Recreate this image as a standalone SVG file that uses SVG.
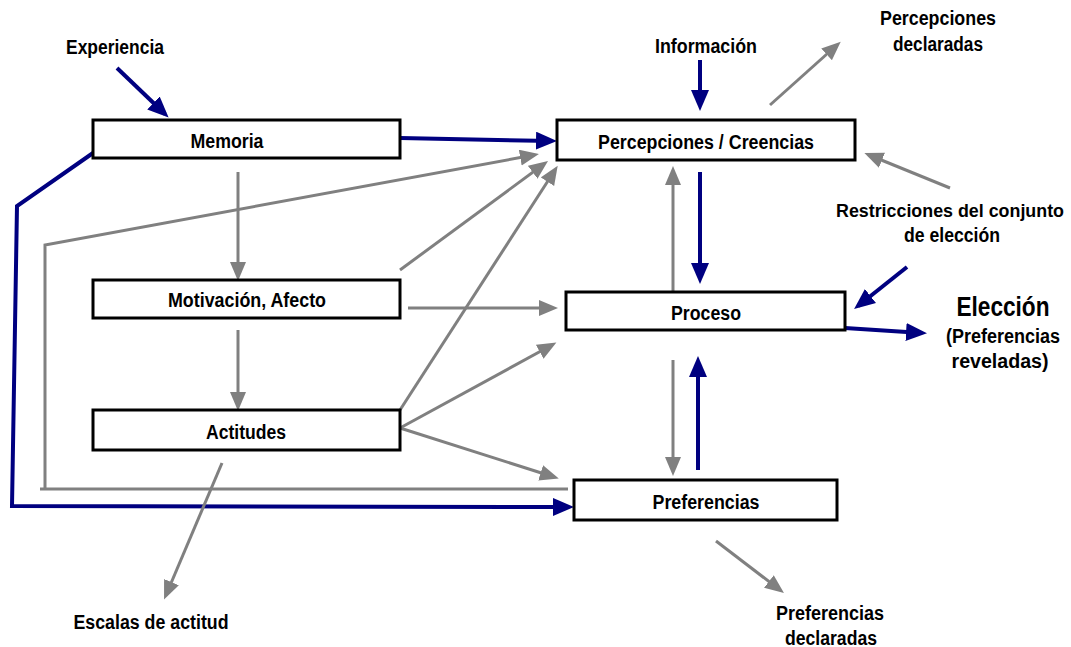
<svg xmlns="http://www.w3.org/2000/svg" width="1071" height="647" viewBox="0 0 1071 647">
<style>
.box{fill:#fff;stroke:#000;stroke-width:3}
.t{font-family:"Liberation Sans",Arial,sans-serif;font-weight:bold;font-size:20px;fill:#000;text-anchor:middle}
.big{font-size:27px}
.sm{font-size:18px}
.g{fill:none;stroke:#808080;stroke-width:3}
.n{fill:none;stroke:#000080;stroke-width:4}
.ga{marker-end:url(#ag)}
.na{marker-end:url(#an)}
</style>
<defs>
<marker id="ag" markerUnits="userSpaceOnUse" markerWidth="20" markerHeight="18" refX="14" refY="8" orient="auto">
<path d="M0,0 L19,8 L0,16 z" fill="#808080"/>
</marker>
<marker id="an" markerUnits="userSpaceOnUse" markerWidth="24" markerHeight="20" refX="16" refY="9" orient="auto">
<path d="M0,0 L21,9 L0,18 z" fill="#000080"/>
</marker>
</defs>
<g id="connectors">
<line class="n na" x1="117" y1="68" x2="165" y2="114"/>
<line class="n na" x1="400" y1="138" x2="552" y2="141"/>
<polyline class="n na" points="93,153 17,206 12,506 569,507"/>
<line class="g ga" x1="238" y1="172" x2="238" y2="276"/>
<line class="g ga" x1="238" y1="330" x2="238" y2="406"/>
<line class="g" x1="40" y1="489" x2="568" y2="489"/>
<polyline class="g ga" points="45,490 45,245 534,155"/>
<line class="g ga" x1="400" y1="270" x2="544" y2="164"/>
<line class="g ga" x1="400" y1="410" x2="555" y2="170"/>
<line class="g ga" x1="408" y1="308" x2="553" y2="308"/>
<line class="g ga" x1="400" y1="428" x2="552" y2="345"/>
<line class="g ga" x1="400" y1="428" x2="554" y2="477"/>
<line class="g ga" x1="222" y1="463" x2="166" y2="595"/>
<line class="n na" x1="700" y1="60" x2="700" y2="106"/>
<line class="g ga" x1="770" y1="105" x2="837" y2="45"/>
<line class="g ga" x1="950" y1="188" x2="869" y2="155"/>
<line class="g ga" x1="673" y1="292" x2="673" y2="171"/>
<line class="n na" x1="700" y1="172" x2="700" y2="279"/>
<line class="n na" x1="907" y1="267" x2="858" y2="306"/>
<line class="n na" x1="845" y1="328" x2="922" y2="333"/>
<line class="g ga" x1="673" y1="360" x2="673" y2="471"/>
<line class="n na" x1="698" y1="470" x2="698" y2="361"/>
<line class="g ga" x1="716" y1="541" x2="780" y2="590"/>
</g>
<g id="memoria"><rect class="box" x="93" y="120" width="307" height="38"/><text class="t" x="227" y="148" textLength="73" lengthAdjust="spacingAndGlyphs">Memoria</text></g>
<g id="percepciones"><rect class="box" x="557" y="120" width="298" height="40"/><text class="t" x="706" y="149" textLength="216" lengthAdjust="spacingAndGlyphs">Percepciones / Creencias</text></g>
<g id="motivacion"><rect class="box" x="93" y="280" width="307" height="38"/><text class="t" x="247" y="307" textLength="158" lengthAdjust="spacingAndGlyphs">Motivación, Afecto</text></g>
<g id="proceso"><rect class="box" x="566" y="292" width="279" height="38"/><text class="t" x="706" y="320" textLength="70" lengthAdjust="spacingAndGlyphs">Proceso</text></g>
<g id="actitudes"><rect class="box" x="93" y="410" width="307" height="40"/><text class="t" x="246" y="439" textLength="80" lengthAdjust="spacingAndGlyphs">Actitudes</text></g>
<g id="preferencias"><rect class="box" x="574" y="480" width="263" height="40"/><text class="t" x="706" y="509" textLength="107" lengthAdjust="spacingAndGlyphs">Preferencias</text></g>
<g id="experiencia"><text class="t" x="115" y="54" textLength="98" lengthAdjust="spacingAndGlyphs">Experiencia</text></g>
<g id="informacion"><text class="t" x="706" y="53" textLength="102" lengthAdjust="spacingAndGlyphs">Información</text></g>
<g id="percepciones-declaradas"><text class="t" x="938" y="25" textLength="116" lengthAdjust="spacingAndGlyphs">Percepciones</text><text class="t" x="938" y="51" textLength="90" lengthAdjust="spacingAndGlyphs">declaradas</text></g>
<g id="restricciones"><text class="t sm" x="950" y="217" textLength="228" lengthAdjust="spacingAndGlyphs">Restricciones del conjunto</text><text class="t" x="952" y="242" textLength="96" lengthAdjust="spacingAndGlyphs">de elección</text></g>
<g id="eleccion"><text class="t big" x="1003" y="316" textLength="93" lengthAdjust="spacingAndGlyphs">Elección</text><text class="t" x="1003" y="343" textLength="114" lengthAdjust="spacingAndGlyphs">(Preferencias</text><text class="t" x="1000" y="368" textLength="97" lengthAdjust="spacingAndGlyphs">reveladas)</text></g>
<g id="escalas"><text class="t" x="151" y="629" textLength="155" lengthAdjust="spacingAndGlyphs">Escalas de actitud</text></g>
<g id="preferencias-declaradas"><text class="t" x="830" y="620" textLength="108" lengthAdjust="spacingAndGlyphs">Preferencias</text><text class="t" x="831" y="645" textLength="92" lengthAdjust="spacingAndGlyphs">declaradas</text></g>
</svg>
